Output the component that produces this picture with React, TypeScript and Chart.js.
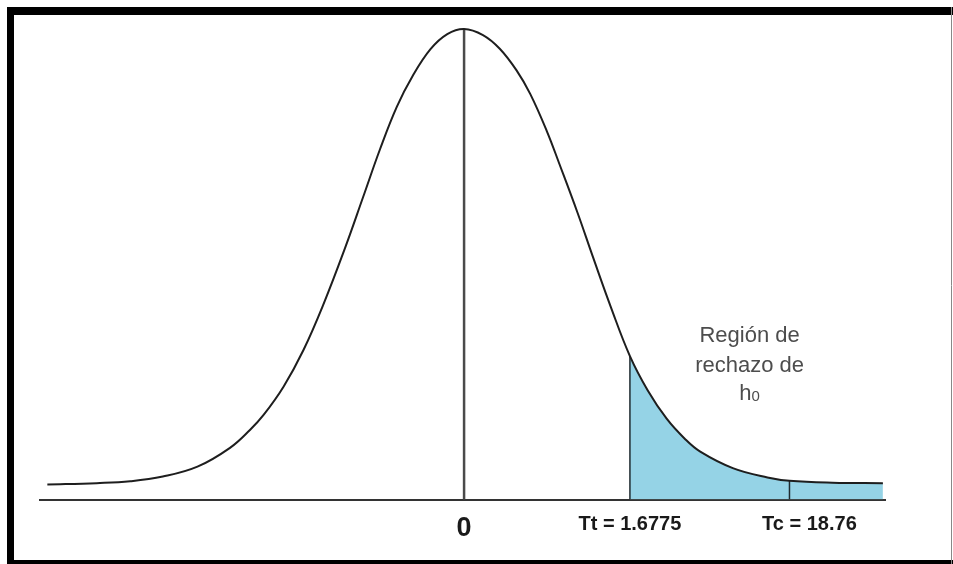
import { useEffect, useRef } from "react";
import { Chart, registerables } from "chart.js";

Chart.register(...registerables);

// Curve (x in standard-deviation units, y relative to peak)
const curveX = [-3.97, -3.5, -3.18, -2.87, -2.54, -2.23, -2.04, -1.91, -1.72, -1.53, -1.34, -1.13, -0.96, -0.8, -0.64, -0.49, -0.32, -0.16, 0, 0.18, 0.34, 0.5, 0.63, 0.79, 0.91, 1.08, 1.23, 1.4, 1.58, 1.75, 1.93, 2.1, 2.25, 2.56, 2.89, 3.1, 3.51, 3.99];
const curveY = [0.032, 0.035, 0.039, 0.049, 0.07, 0.11, 0.148, 0.18, 0.24, 0.318, 0.415, 0.537, 0.644, 0.745, 0.835, 0.9, 0.957, 0.989, 1.0, 0.987, 0.958, 0.912, 0.862, 0.782, 0.712, 0.61, 0.514, 0.408, 0.305, 0.232, 0.172, 0.13, 0.102, 0.067, 0.047, 0.04, 0.036, 0.035];

// Critical values
const ttX = 1.58;
const ttY = 0.305;
const tcX = 3.1;
const tcY = 0.04;
const peakY = 1.0;

// Axis tick labels
const tickValues = [0, 1.58, 3.29];
const tickLabels = ["0", "Tt = 1.6775", "Tc = 18.76"];

// Region annotation
const regionLines = ["Región de", "rechazo de"];
const regionSub = ["h", "0"];
const regionX = 2.72;
const regionY = 0.335;

const FONT = "'Liberation Sans', Arial, sans-serif";

const framePlugin = {
  id: "frame",
  afterDraw(chart: any) {
    const ctx = chart.ctx;
    const W = chart.width;
    const H = chart.height;
    ctx.save();
    ctx.fillStyle = "#000";
    ctx.fillRect(7, 7, W - 7, 8);
    ctx.fillRect(7, 7, 7, H - 7);
    ctx.fillRect(7, H - 4, W - 7, 4);
    ctx.strokeStyle = "#888";
    ctx.lineWidth = 1;
    ctx.beginPath();
    ctx.moveTo(W - 1.5, 7);
    ctx.lineTo(W - 1.5, H);
    ctx.stroke();
    ctx.restore();
  },
};

const regionLabelPlugin = {
  id: "regionLabel",
  afterDatasetsDraw(chart: any) {
    const ctx = chart.ctx;
    const xs = chart.scales.x;
    const ys = chart.scales.y;
    const cx = xs.getPixelForValue(regionX);
    const by = ys.getPixelForValue(regionY);
    ctx.save();
    ctx.fillStyle = "#4d4d4d";
    ctx.textAlign = "center";
    ctx.textBaseline = "alphabetic";
    ctx.font = "22px " + FONT;
    regionLines.forEach((t, i) => ctx.fillText(t, cx, by + i * 30));
    const y3 = by + 58;
    const hw = ctx.measureText(regionSub[0]).width;
    ctx.font = "15px " + FONT;
    const sw = ctx.measureText(regionSub[1]).width;
    const start = cx - (hw + sw) / 2;
    ctx.textAlign = "left";
    ctx.font = "22px " + FONT;
    ctx.fillText(regionSub[0], start, y3);
    ctx.font = "15px " + FONT;
    ctx.fillText(regionSub[1], start + hw, y3 + 1);
    ctx.restore();
  },
};

export default function App() {
  const ref = useRef<HTMLCanvasElement | null>(null);
  useEffect(() => {
    if (!ref.current) return;
    const curve = curveX.map((x, i) => ({ x, y: curveY[i] }));
    const shade = curve.filter((p) => p.x >= ttX);
    const chart = new Chart(ref.current, {
      type: "line",
      data: {
        datasets: [
          {
            data: curve,
            borderColor: "#1e1e1e",
            borderWidth: 2,
            pointRadius: 0,
            tension: 0.4,
            fill: false,
            order: 0,
            clip: false,
          } as any,
          {
            data: shade,
            borderWidth: 0,
            borderColor: "rgba(0,0,0,0)",
            backgroundColor: "#95d3e6",
            pointRadius: 0,
            tension: 0.4,
            fill: "origin",
            order: 3,
          } as any,
          {
            data: [{ x: 0, y: 0 }, { x: 0, y: peakY }],
            borderColor: "#4a4a4a",
            borderWidth: 2.5,
            pointRadius: 0,
            order: 1,
            clip: false,
          } as any,
          {
            data: [{ x: ttX, y: 0 }, { x: ttX, y: ttY }],
            borderColor: "#1f2b30",
            borderWidth: 1.5,
            pointRadius: 0,
            order: 1,
          } as any,
          {
            data: [{ x: tcX, y: 0 }, { x: tcX, y: tcY }],
            borderColor: "#1f2b30",
            borderWidth: 1.5,
            pointRadius: 0,
            order: 1,
          } as any,
        ],
      },
      options: {
        responsive: false,
        animation: false,
        events: [],
        layout: { padding: { left: 40, right: 68, top: 15, bottom: 6 } },
        plugins: { legend: { display: false }, tooltip: { enabled: false } },
        scales: {
          x: {
            type: "linear",
            min: -4.04,
            max: 4.01,
            afterBuildTicks: (axis: any) => {
              axis.ticks = tickValues.map((v) => ({ value: v }));
            },
            grid: { display: false, drawTicks: false },
            border: { display: true, color: "#333", width: 2 },
            ticks: {
              autoSkip: false,
              maxRotation: 0,
              padding: 13,
              color: "#1a1a1a",
              callback: (_v: any, i: number) => tickLabels[i],
              font: (c: any) =>
                c.index === 0
                  ? { size: 27, weight: "bold", family: FONT }
                  : { size: 20, weight: "bold", family: FONT },
            },
          },
          y: {
            type: "linear",
            display: false,
            min: 0,
            max: 1.0297,
          },
        },
      },
      plugins: [framePlugin, regionLabelPlugin],
    });
    return () => chart.destroy();
  }, []);
  return (
    <div style={{ position: "fixed", left: 0, top: 0, width: 953, height: 564, background: "#fff" }}>
      <canvas ref={ref} width={953} height={564} />
    </div>
  );
}
